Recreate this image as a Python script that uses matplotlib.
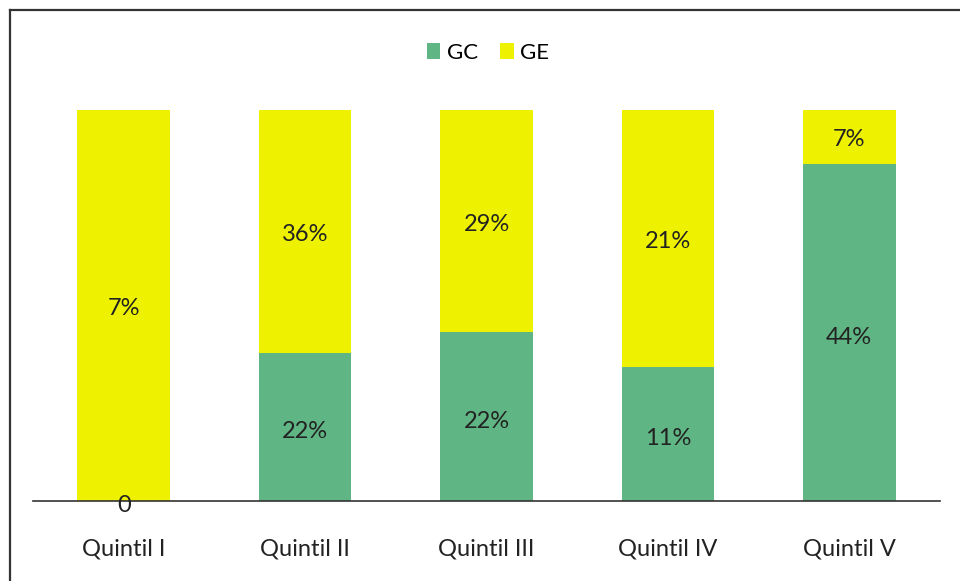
import matplotlib
matplotlib.use("Agg")
import matplotlib.pyplot as plt
from matplotlib.lines import Line2D
import numpy as np

categories = ["Quintil I", "Quintil II", "Quintil III", "Quintil IV", "Quintil V"]
gc_values = [0, 22, 22, 11, 44]
ge_values = [7, 36, 29, 21, 7]
gc_labels = ["0", "22%", "22%", "11%", "44%"]
ge_labels = ["7%", "36%", "29%", "21%", "7%"]

plt.rcParams['font.family'] = ['Lato', 'DejaVu Sans']

gc = np.array(gc_values, float)
ge = np.array(ge_values, float)
tot = gc + ge
gc_share = gc / tot
ge_share = ge / tot

green = "#5fb583"
yellow = "#eef200"
txt = "#222222"

fig = plt.figure(figsize=(9.6, 5.81), dpi=100)
# partial frame: left and top edges
fx, fy = 10/960, 1 - 10/581
fig.lines.append(Line2D([fx, fx], [0, fy], transform=fig.transFigure, color="#333333", lw=1.6))
fig.lines.append(Line2D([fx, 1], [fy, fy], transform=fig.transFigure, color="#333333", lw=1.6))

ax = fig.add_axes([33/960, 80/581, 907/960, 391/581])
x = np.arange(len(categories))
w = 0.51
ax.bar(x, gc_share, w, color=green, label="GC")
ax.bar(x, ge_share, w, bottom=gc_share, color=yellow, label="GE")

fs = 17
for i in range(len(categories)):
    if gc[i] > 0:
        ax.text(x[i], gc_share[i] / 2 - 0.012, gc_labels[i], ha="center", va="center",
                fontsize=fs, color=txt)
    else:
        ax.text(x[i], -0.012, gc_labels[i], ha="center", va="center",
                fontsize=fs, color=txt)
    ax.text(x[i], gc_share[i] + ge_share[i] / 2 - 0.008, ge_labels[i], ha="center", va="center",
            fontsize=fs, color=txt)

ax.set_xlim(-0.5, 4.5)
ax.set_ylim(0, 1)
ax.set_xticks(x)
ax.set_xticklabels(categories, fontsize=fs, color=txt)
ax.tick_params(axis="x", length=0, pad=27)
ax.set_yticks([])
for s in ["top", "right", "left"]:
    ax.spines[s].set_visible(False)
ax.spines["bottom"].set_color("#333333")
ax.spines["bottom"].set_linewidth(1.2)

leg = fig.legend(loc="center", bbox_to_anchor=(488/960, 1 - 53/581), ncol=2, frameon=False,
                 fontsize=16, handlelength=0.6, handleheight=0.7, handletextpad=0.3,
                 columnspacing=1.0)

fig.savefig("out.png", dpi=100)
